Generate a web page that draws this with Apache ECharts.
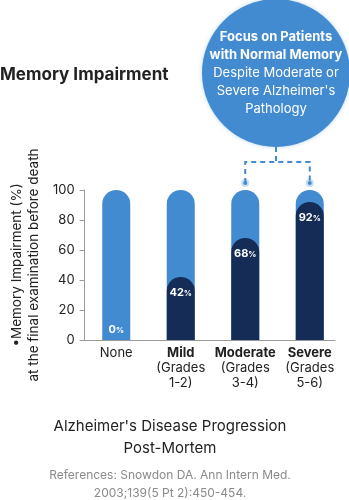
<!DOCTYPE html>
<html>
<head>
<meta charset="utf-8">
<script src="https://cdn.jsdelivr.net/npm/echarts@6/dist/echarts.min.js"></script>
<style>
  html, body { margin: 0; padding: 0; background: #fff; }
  #chart { width: 349px; height: 500px; }
</style>
</head>
<body>
<div id="chart"></div>
<script>
// Neuropathology stage at autopsy vs. memory impairment before death
const categories = ['None', 'Mild', 'Moderate', 'Severe'];
const gradeRanges = ['', '1-2', '3-4', '5-6'];
const impairedPct = [0, 42, 68, 92];
const fullScale = [100, 100, 100, 100];
const yTickMax = 100;
const yTickStep = 20;

const LIGHT = '#428bd1';
const NAVY = '#142c56';
const TEXT = '#222222';
const FONT = 'Inter, "Noto Sans", sans-serif';

const chart = echarts.init(document.getElementById('chart'), null, { renderer: 'canvas' });

const categoryLabel = (name, i) => {
  if (!gradeRanges[i]) return '{n|' + name + '}';
  return '{b|' + name + '}\n{n|(Grades}\n{n|' + gradeRanges[i] + ')}';
};

const option = {
  backgroundColor: '#ffffff',
  textStyle: { fontFamily: FONT },
  title: [
    {
      text: 'Memory Impairment',
      left: 0, top: 66, padding: 0,
      textStyle: { fontFamily: FONT, fontSize: 17, fontWeight: 'bold', color: TEXT }
    },
    {
      text: "Alzheimer's Disease Progression\nPost-Mortem",
      left: 170, top: 415, padding: 0, textAlign: 'center',
      textStyle: { fontFamily: FONT, fontSize: 15, fontWeight: 'normal', color: TEXT, lineHeight: 22 }
    },
    {
      text: 'References: Snowdon DA. Ann Intern Med.\n2003;139(5 Pt 2):450-454.',
      left: 170, top: 466, padding: 0, textAlign: 'center',
      textStyle: { fontFamily: FONT, fontSize: 12, fontWeight: 'normal', color: '#8a8a8a', lineHeight: 18 }
    }
  ],
  grid: [
    { left: 79, right: 14, top: 190, bottom: 160 },
    { left: 84, right: 7, top: 190, bottom: 160 }
  ],
  xAxis: [
    {
      gridIndex: 0, type: 'value', min: 0, max: 1,
      axisLine: { show: true, lineStyle: { color: '#9a9a9a', width: 1 } },
      axisTick: { show: false }, axisLabel: { show: false }, splitLine: { show: false }
    },
    {
      gridIndex: 1, type: 'category', data: categories,
      axisLine: { show: false }, axisTick: { show: false },
      axisLabel: {
        margin: 6, interval: 0, lineHeight: 15,
        formatter: categoryLabel,
        rich: {
          n: { fontFamily: FONT, fontSize: 13, color: TEXT, lineHeight: 15 },
          b: { fontFamily: FONT, fontSize: 13, fontWeight: 'bold', color: TEXT, lineHeight: 15 }
        }
      }
    }
  ],
  yAxis: [
    {
      gridIndex: 0, type: 'value', min: 0, max: yTickMax, interval: yTickStep,
      name: '•Memory Impairment (%)\nat the final examination before death',
      nameLocation: 'middle', nameRotate: 90, nameGap: 40,
      nameTextStyle: { fontFamily: FONT, fontSize: 13.5, color: TEXT, lineHeight: 17 },
      axisLine: { show: true, lineStyle: { color: '#9a9a9a', width: 1 } },
      axisTick: { show: true, length: 5, lineStyle: { color: '#9a9a9a' } },
      axisLabel: { margin: 10, fontFamily: FONT, fontSize: 13, color: TEXT },
      splitLine: { show: false }
    },
    {
      gridIndex: 1, type: 'value', min: 0, max: yTickMax, show: false
    }
  ],
  series: [
    {
      name: 'Scale', type: 'bar', xAxisIndex: 1, yAxisIndex: 1,
      data: fullScale, barWidth: 28, barGap: '-100%',
      itemStyle: { color: LIGHT, borderRadius: [14, 14, 0, 0] },
      silent: true, z: 2
    },
    {
      name: 'Memory impairment', type: 'bar', xAxisIndex: 1, yAxisIndex: 1,
      data: impairedPct.map(v => v === 0
        ? { value: v, label: { position: 'insideBottom', distance: 5 } }
        : v),
      barWidth: 28, barGap: '-100%',
      itemStyle: { color: NAVY, borderRadius: [14, 14, 0, 0] },
      z: 3,
      label: {
        show: true, position: 'insideTop', distance: 10,
        formatter: p => '{v|' + p.value + '}{p|%}',
        rich: {
          v: { fontFamily: FONT, fontSize: 11, fontWeight: 'bold', color: '#ffffff' },
          p: { fontFamily: FONT, fontSize: 8, fontWeight: 'bold', color: '#ffffff', verticalAlign: 'bottom', padding: [2, 0, 0, 0] }
        }
      }
    }
  ]
};

chart.setOption(option);

// Callout bubble with dashed bracket pointing at the Moderate and Severe bars
const bubble = { cx: 276, cy: 73, r: 74 };
const topMod = chart.convertToPixel({ seriesIndex: 0 }, [2, yTickMax]);
const topSev = chart.convertToPixel({ seriesIndex: 0 }, [3, yTickMax]);
const bracketY = 162;
const endY = topMod[1] - 7;
const dash = { stroke: LIGHT, lineWidth: 2, lineDash: [5, 4] };

chart.setOption({
  graphic: [
    {
      type: 'circle', shape: { cx: bubble.cx, cy: bubble.cy, r: bubble.r },
      style: { fill: LIGHT, shadowBlur: 4, shadowColor: 'rgba(66,139,209,0.35)' }, z: 10
    },
    {
      type: 'text', x: bubble.cx, y: bubble.cy, z: 11,
      style: {
        text: '{b|Focus on Patients}\n{b|with Normal Memory}\n{n|Despite Moderate or}\n{n|Severe Alzheimer\'s}\n{n|Pathology}',
        align: 'center', verticalAlign: 'middle',
        rich: {
          b: { fontFamily: FONT, fontSize: 13, fontWeight: 'bold', fill: '#ffffff', lineHeight: 18, align: 'center' },
          n: { fontFamily: FONT, fontSize: 13, fill: '#ffffff', lineHeight: 18, align: 'center' }
        }
      }
    },
    { type: 'polyline', shape: { points: [[bubble.cx, bubble.cy + bubble.r], [bubble.cx, bracketY]] }, style: dash, z: 9 },
    { type: 'polyline', shape: { points: [[topMod[0], endY], [topMod[0], bracketY], [topSev[0], bracketY], [topSev[0], endY]] }, style: dash, z: 9 },
    { type: 'circle', shape: { cx: topMod[0], cy: endY, r: 4 }, style: { fill: 'rgba(66,139,209,0.3)' }, z: 9 },
    { type: 'circle', shape: { cx: topMod[0], cy: endY, r: 2 }, style: { fill: LIGHT }, z: 9 },
    { type: 'circle', shape: { cx: topSev[0], cy: endY, r: 4 }, style: { fill: 'rgba(66,139,209,0.3)' }, z: 9 },
    { type: 'circle', shape: { cx: topSev[0], cy: endY, r: 2 }, style: { fill: LIGHT }, z: 9 }
  ]
});
</script>
</body>
</html>
